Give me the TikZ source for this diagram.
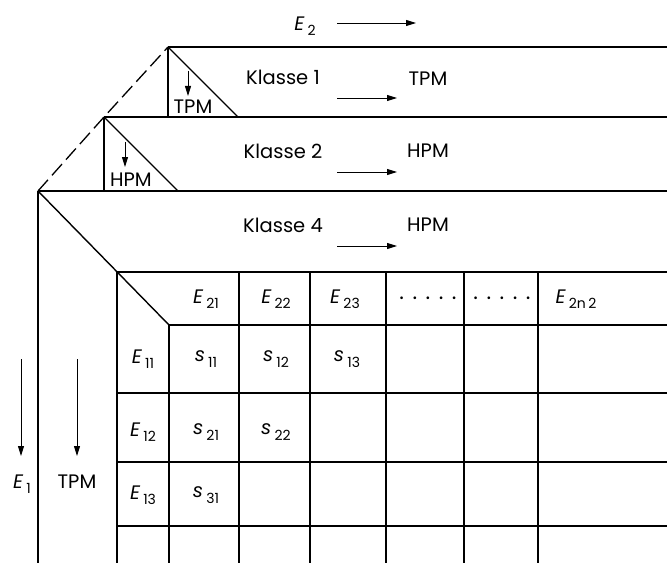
\documentclass[tikz,border=0pt]{standalone}
\usepackage{fontspec}
\setmainfont{Poppins}
\usetikzlibrary{arrows.meta}
% symbol with a lowered subscript, e.g. \symsub{E}{21}
\newcommand{\symsub}[2]{{\itshape #1}\,\raisebox{-0.5ex}{\fontsize{14}{14}\selectfont #2}}
% a run of five spaced dots
\newcommand{\dotrun}{.\hspace{8.5pt}.\hspace{8.5pt}.\hspace{8.5pt}.\hspace{8.5pt}.}
\begin{document}
\begin{tikzpicture}[x=1pt,y=-1pt,line width=1.3pt,
  lab/.style={font=\fontsize{19.5}{19.5}\selectfont, inner sep=0pt},
  dotlab/.style={font=\fontsize{22}{22}\selectfont, inner sep=0pt, anchor=base},
  flow/.style={-{Triangle[length=10pt,width=6pt]}, line width=0.9pt},
  frame/.style={line width=1.4pt},
  slope/.style={line width=1.3pt, dash pattern=on 15pt off 6pt}]
\useasboundingbox (0,0) rectangle (667,578);

% corners of the three stacked classes
\coordinate (k1) at (168,47);  \coordinate (k1r) at (667,47);
\coordinate (k2) at (104,117); \coordinate (k2r) at (667,117);
\coordinate (k4) at (38,191);  \coordinate (k4r) at (667,191);
\coordinate (k1b) at (168,117); \coordinate (k1t) at (238,117);
\coordinate (k2b) at (104,191); \coordinate (k2t) at (178,191);
\coordinate (k4b) at (38,563);

% layer outlines
\draw[frame] (k1) -- (k1r);
\draw[frame] (k2) -- (k2r);
\draw[frame] (k4) -- (k4r);
\draw[slope] (k4) -- (k2) -- (k1);
\draw[frame] (k1) -- (k1b);
\draw[frame] (k1) -- (k1t);
\draw[frame] (k2) -- (k2b);
\draw[frame] (k2) -- (k2t);
\draw[frame] (k4) -- (k4b);

% table
\coordinate (tl) at (117,272);
\coordinate (hc) at (169,325);
\draw[frame] (k4) -- (hc);
\draw[frame] (117,272) -- (667,272);
\draw[frame] (169,325) -- (667,325);
\foreach \y in {393,462,526} \draw[frame] (117,\y) -- (667,\y);
\draw[frame] (117,272) -- (117,563);
\draw[frame] (169,325) -- (169,563);
\foreach \x in {239,310,386,464,538} \draw[frame] (\x,272) -- (\x,563);

% labels of the classes
\node[lab] (kl1) at (283,77) {Klasse 1};
\node[lab] (kl2) at (283,151) {Klasse 2};
\node[lab] (kl4) at (283,225) {Klasse 4};
\node[lab] (m1) at (428,79) {TPM};
\node[lab] (m2) at (428,151) {HPM};
\node[lab] (m4) at (428,225) {HPM};
\node[lab] (e2) at (305,26) {\symsub{E}{2}};

% direction arrows to the right
\coordinate (e2a) at (337,23); \coordinate (e2b) at (416,23);
\coordinate (r1a) at (337,98); \coordinate (r1b) at (397,98);
\coordinate (r2a) at (337,172); \coordinate (r2b) at (397,172);
\coordinate (r4a) at (337,246); \coordinate (r4b) at (397,246);
\draw[flow] (e2a) -- (e2b);
\draw[flow] (r1a) -- (r1b);
\draw[flow] (r2a) -- (r2b);
\draw[flow] (r4a) -- (r4b);

% small triangle labels
\node[lab] (tt1) at (193,107) {TPM};
\node[lab] (tt2) at (131,180) {HPM};
\coordinate (d1a) at (188,71); \coordinate (d1b) at (188,96);
\coordinate (d2a) at (125,142); \coordinate (d2b) at (125,167);
\draw[flow] (d1a) -- (d1b);
\draw[flow] (d2a) -- (d2b);

% left side arrows
\coordinate (v1a) at (21,359); \coordinate (v1b) at (21,456);
\coordinate (v2a) at (77,359); \coordinate (v2b) at (77,456);
\draw[flow] (v1a) -- (v1b);
\draw[flow] (v2a) -- (v2b);
\node[lab] (e1) at (22,484) {\symsub{E}{1}};
\node[lab] (tpm) at (77,482) {TPM};

% table headers
\node[lab] (h21) at (206,299) {\symsub{E}{21}};
\node[lab] (h22) at (276,299) {\symsub{E}{22}};
\node[lab] (h23) at (345,299) {\symsub{E}{23}};
\node[dotlab] (dots1) at (428,299) {\dotrun};
\node[dotlab] (dots2) at (502,299) {\dotrun};
\node[lab] (h2n) at (576,299) {\symsub{E}{2n\,2}};

% row headers and entries
\node[lab] (r11) at (143,359) {\symsub{E}{11}};
\node[lab] (r12) at (143,432) {\symsub{E}{12}};
\node[lab] (r13) at (143,495) {\symsub{E}{13}};
\node[lab] (s11) at (206,359) {\symsub{s}{11}};
\node[lab] (s12) at (276,359) {\symsub{s}{12}};
\node[lab] (s13) at (347,359) {\symsub{s}{13}};
\node[lab] (s21) at (206,432) {\symsub{s}{21}};
\node[lab] (s22) at (276,432) {\symsub{s}{22}};
\node[lab] (s31) at (206,495) {\symsub{s}{31}};
\end{tikzpicture}
\end{document}
